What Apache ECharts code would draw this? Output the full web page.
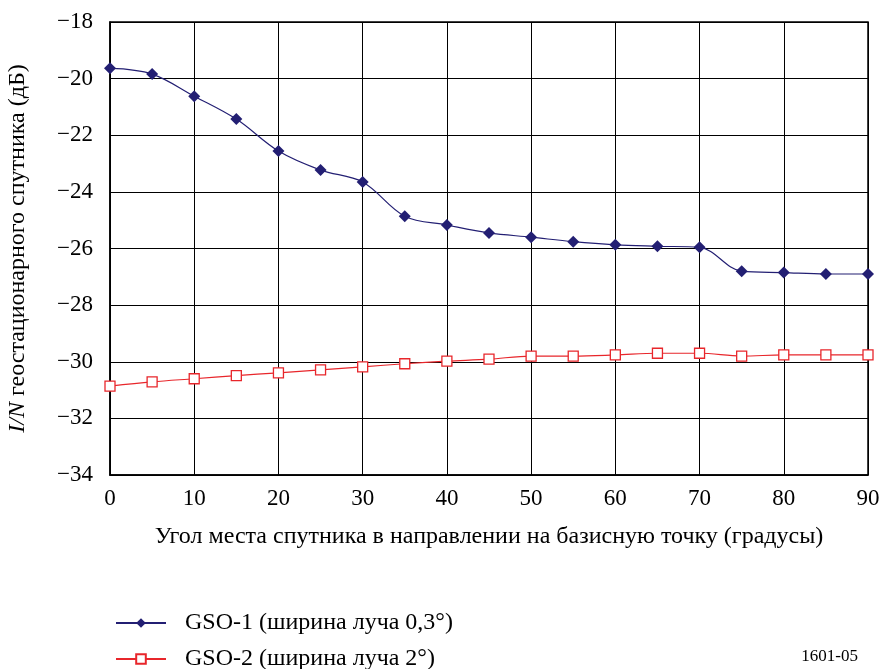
<!DOCTYPE html>
<html><head><meta charset="utf-8">
<script src="https://cdn.jsdelivr.net/npm/echarts@6/dist/echarts.min.js"></script>
<style>html,body{margin:0;padding:0;background:#fff}#c{width:880px;height:669px}</style>
</head><body><div id="c"></div>
<script>
const angles = [0,5,10,15,20,25,30,35,40,45,50,55,60,65,70,75,80,85,90];
const gso1 = [-19.63,-19.84,-20.62,-21.43,-22.56,-23.23,-23.65,-24.86,-25.17,-25.45,-25.6,-25.76,-25.87,-25.92,-25.96,-26.8,-26.85,-26.9,-26.9];
const gso2 = [-30.86,-30.71,-30.6,-30.49,-30.39,-30.29,-30.18,-30.07,-29.98,-29.91,-29.8,-29.8,-29.76,-29.7,-29.7,-29.8,-29.76,-29.76,-29.76];
const xTicks = [0,10,20,30,40,50,60,70,80,90];
const yTicks = [-34,-32,-30,-28,-26,-24,-22,-20,-18];
const names = ['GSO-1 (ширина луча 0,3°)','GSO-2 (ширина луча 2°)'];
const F = '"Liberation Serif","Times New Roman",serif';
const chart = echarts.init(document.getElementById('c'));
chart.setOption({
  animation:false,
  textStyle:{fontFamily:F},
  grid:{left:110,right:12,top:22,bottom:194,show:true,borderColor:'#000',borderWidth:1.5,outerBoundsMode:'none',containLabel:false},
  xAxis:{type:'value',min:0,max:90,interval:10,
    axisLine:{show:true,lineStyle:{color:'#000',width:1.5}},axisTick:{show:false},
    splitLine:{show:true,lineStyle:{color:'#000',width:1}},
    axisLabel:{color:'#000',fontSize:23,fontFamily:F,margin:12},
    name:'Угол места спутника в направлении на базисную точку (градусы)',
    nameLocation:'middle',nameGap:50,nameTextStyle:{color:'#000',fontSize:24,fontFamily:F}},
  yAxis:{type:'value',min:-34,max:-18,interval:2,
    axisLine:{show:true,lineStyle:{color:'#000',width:1.5}},axisTick:{show:false},
    splitLine:{show:true,lineStyle:{color:'#000',width:1}},
    axisLabel:{color:'#000',fontSize:23,fontFamily:F,margin:17,formatter:v=>String(v).replace('-','\u2212')},
    name:'{i|I/N} геостационарного спутника (дБ)',nameLocation:'middle',nameGap:80,
    nameTextStyle:{color:'#000',fontSize:24,fontFamily:F,rich:{i:{fontStyle:'italic',fontSize:24,fontFamily:F,color:'#000'}}}},
  legend:{orient:'vertical',left:115,top:611,height:61,padding:0,itemWidth:50,itemHeight:12,itemGap:12,
    textStyle:{color:'#000',fontSize:24,fontFamily:F,padding:[0,0,0,14]},
    data:names},
  graphic:[{type:'text',right:22,top:648,style:{text:'1601-05',font:'17px '+F,fill:'#000'}}],
  series:[
    {name:names[0],type:'line',smooth:0.35,data:angles.map((a,i)=>[a,gso1[i]]),
      symbol:'diamond',symbolSize:12,lineStyle:{color:'#231f73',width:1.2},
      itemStyle:{color:'#231f73'}},
    {name:names[1],type:'line',smooth:0.35,data:angles.map((a,i)=>[a,gso2[i]]),
      symbol:'rect',symbolSize:10,showAllSymbol:true,lineStyle:{color:'#e8262b',width:1.2},
      itemStyle:{color:'#fff',borderColor:'#e8262b',borderWidth:1.3}}
  ]
});
</script></body></html>
